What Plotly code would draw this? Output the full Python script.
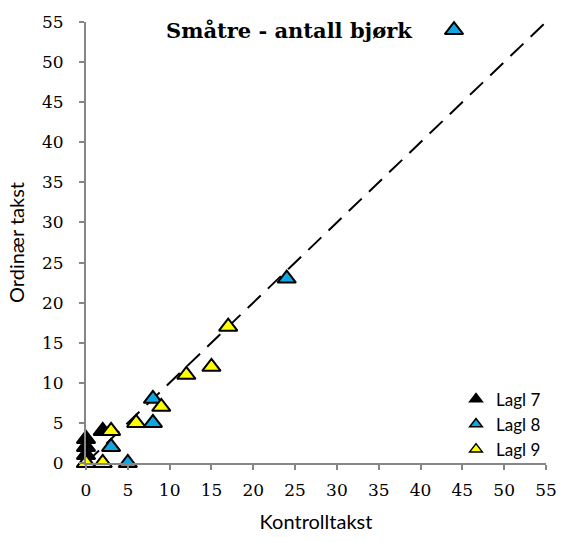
import plotly.graph_objects as go

lagl7_x = [0, 0, 0, 0, 2]
lagl7_y = [0, 1, 2, 3, 4]
lagl8_x = [3, 5, 8, 8, 24, 44]
lagl8_y = [2, 0, 8, 5, 23, 54]
lagl9_x = [0, 2, 3, 6, 9, 12, 15, 17]
lagl9_y = [0, 0, 4, 5, 7, 11, 12, 17]
line_x = [0, 55]
line_y = [0, 55]
ticks = list(range(0, 56, 5))

fig = go.Figure()
fig.add_trace(go.Scatter(x=line_x, y=line_y, mode="lines", showlegend=False,
                         line=dict(color="black", width=2, dash="18px,10px"), cliponaxis=False))
series = [("Lagl 7", lagl7_x, lagl7_y, "black"),
          ("Lagl 8", lagl8_x, lagl8_y, "#12A5E0"),
          ("Lagl 9", lagl9_x, lagl9_y, "#FFFF00")]
for name, xs, ys, col in series:
    fig.add_trace(go.Scatter(x=xs, y=ys, mode="markers", name=name, cliponaxis=False,
                             showlegend=False, legendgroup=name,
                             marker=dict(symbol="triangle-up", size=16, color=col,
                                         line=dict(color="black", width=2))))
for name, xs, ys, col in series:
    fig.add_trace(go.Scatter(x=[None], y=[None], mode="markers", name=name,
                             legendgroup=name,
                             marker=dict(symbol="triangle-up", size=11, color=col,
                                         line=dict(color="black", width=1.5))))

axis_common = dict(range=[0, 55], tickvals=ticks, showgrid=False, zeroline=False,
                   showline=True, linecolor="#868686", linewidth=2,
                   ticks="outside", tickcolor="#868686", ticklen=5, tickwidth=1.5,
                   tickfont=dict(family="DejaVu Serif", size=17, color="black"))
fig.update_xaxes(**axis_common, ticklabelstandoff=6,
                 title=dict(text="Kontrolltakst",
                            font=dict(family="Lato", size=20, color="black"), standoff=16))
fig.update_yaxes(**axis_common, ticklabelstandoff=12,
                 title=dict(text="Ordinær takst",
                            font=dict(family="Lato", size=20, color="black"), standoff=12))

fig.add_annotation(text="<b>Småtre - antall bjørk</b>", xref="x domain", yref="y domain",
                   x=0.441, y=0.98, yanchor="middle", showarrow=False,
                   font=dict(family="DejaVu Serif", size=21, color="black"))

fig.update_layout(width=569, height=542, margin=dict(l=86, r=22, t=18, b=77),
                  plot_bgcolor="white", paper_bgcolor="white",
                  legend=dict(x=1.0, y=0.185, xanchor="right", yanchor="top",
                              font=dict(family="Lato", size=17, color="black"),
                              tracegroupgap=0, itemwidth=30,
                              bgcolor="rgba(0,0,0,0)"))
fig.write_html("out.html")
